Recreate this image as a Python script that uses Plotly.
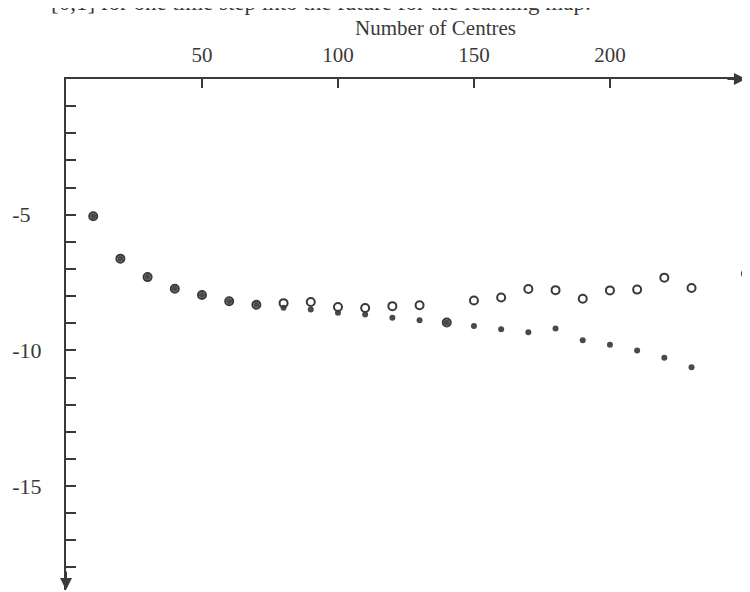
import plotly.graph_objects as go

# Data
centres = [10, 20, 30, 40, 50, 60, 70, 80, 90, 100, 110, 120, 130, 140,
           150, 160, 170, 180, 190, 200, 210, 220, 230, 250]
open_vals = [-5.06, -6.62, -7.30, -7.73, -7.96, -8.19, -8.32, -8.26, -8.22, -8.40,
             -8.44, -8.37, -8.34, -8.97, -8.16, -8.05, -7.74, -7.78, -8.10, -7.79,
             -7.76, -7.32, -7.70, -7.17]
filled_vals = [-5.06, -6.62, -7.30, -7.73, -7.96, -8.19, -8.32, -8.43, -8.49, -8.61,
               -8.68, -8.80, -8.89, -8.97, -9.10, -9.22, -9.33, -9.19, -9.63, -9.79,
               -10.00, -10.27, -10.62, -17.39]
x_ticks = [50, 100, 150, 200]
y_ticks = list(range(-1, -19, -1))
y_labels = {-5: "-5\u2007", -10: "-10", -15: "-15"}
x_title = "Number of Centres"
caption = "[0,1] for one time step into the future for the learning map."

FONT = "Liberation Serif"
INK = "#3a3a3a"

fig = go.Figure()
fig.add_trace(go.Scatter(
    x=centres, y=filled_vals, mode="markers",
    marker=dict(size=6, color="#4a4a4a", line=dict(width=0)),
    showlegend=False, cliponaxis=False))
fig.add_trace(go.Scatter(
    x=centres, y=open_vals, mode="markers",
    marker=dict(size=8, symbol="circle-open", color=INK, line=dict(width=2)),
    showlegend=False, cliponaxis=False))

# The page body adds an 8px margin, so the figure is sized to fit inside it.
fig.update_layout(
    width=742, height=584,
    margin=dict(l=58, r=0, t=71, b=2),
    paper_bgcolor="white", plot_bgcolor="white",
    font=dict(family=FONT, color=INK),
    xaxis=dict(range=[0, 251.5], side="top", showgrid=False, zeroline=False,
               automargin=False,
               showline=True, linecolor=INK, linewidth=2,
               tickmode="array", tickvals=x_ticks, ticktext=[str(v) for v in x_ticks],
               ticks="inside", ticklen=9, tickwidth=2, tickcolor=INK,
               ticklabelstandoff=7,
               tickfont=dict(family=FONT, size=21, color=INK)),
    yaxis=dict(range=[-18.83, 0], showgrid=False, zeroline=False,
               automargin=False,
               showline=True, linecolor=INK, linewidth=2,
               tickmode="array", tickvals=y_ticks,
               ticktext=[y_labels.get(v, "") for v in y_ticks],
               ticks="inside", ticklen=10, tickwidth=2, tickcolor=INK,
               ticklabelstandoff=18,
               tickfont=dict(family=FONT, size=22, color=INK)),
    annotations=[
        dict(text=x_title, xref="paper", yref="paper", x=0.54, y=1.0,
             yshift=51, xanchor="center", yanchor="middle", showarrow=False,
             font=dict(family=FONT, size=21, color=INK)),
        dict(text=caption, xref="paper", yref="paper", x=-0.025, y=1.0,
             yshift=77, xanchor="left", yanchor="middle", showarrow=False,
             font=dict(family=FONT, size=23, color=INK)),
        # axis arrows
        dict(x=250, y=0, xref="x", yref="y", ax=-20, ay=0, text="",
             showarrow=True, arrowhead=2, arrowsize=1.2, arrowwidth=2,
             arrowcolor=INK),
        dict(x=0, y=-18.83, xref="x", yref="y", ax=0, ay=-20, text="",
             showarrow=True, arrowhead=2, arrowsize=1.2, arrowwidth=2,
             arrowcolor=INK),
    ],
)

fig.write_html("out.html")
